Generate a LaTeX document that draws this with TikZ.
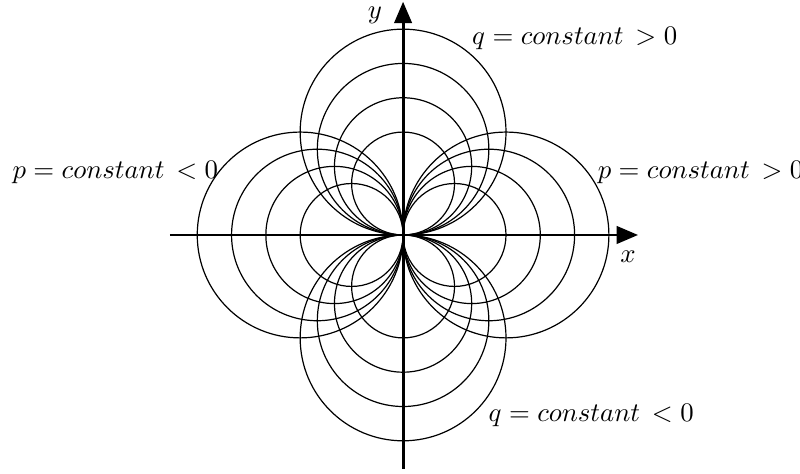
\documentclass[tikz,border=0pt]{standalone}
\usepackage{amsmath,amssymb}
\usepackage{tikz}
\usepackage{xcolor}
\usetikzlibrary{arrows.meta, positioning, calc}
\tikzset{
    % Curve styles
    circleline/.style={
        draw=black,
        line width=0.45pt
    },
    % Axis styles
    axisline/.style={
        draw=black,
        line width=1.1pt,
        -{Triangle[length=8pt,width=6.5pt]}
    },
    axislabel/.style={
        inner sep=0pt,
        font=\normalsize
    },
    curvelabel/.style={
        inner sep=0pt,
        font=\normalsize
    }
}
\begin{document}
\begin{tikzpicture}[x=0.45cm, y=0.45cm]
            \useasboundingbox (-11.75,-6.94) rectangle (11.57,6.85);

            % Circles p = constant (centres on the x axis)
            \foreach \r in {1.5,2,2.5,3} {
                \draw[circleline] (\r,0) circle (\r);
                \draw[circleline] (-\r,0) circle (\r);
            }

            % Circles q = constant (centres on the y axis)
            \foreach \r in {1.5,2,2.5,3} {
                \draw[circleline] (0,\r) circle (\r);
                \draw[circleline] (0,-\r) circle (\r);
            }

            % Axes
            \coordinate (xstart) at (-6.8,0);
            \coordinate (xend) at (6.85,0);
            \coordinate (ystart) at (0,-6.82);
            \coordinate (yend) at (0,6.8);
            \draw[axisline] (xstart) -- (xend);
            \draw[axisline] (ystart) -- (yend);

            \node[axislabel] (xlabel) at (6.56,-0.64) {$x$};
            \node[axislabel] (ylabel) at (-0.82,6.4) {$y$};

            % Labels
            \node[curvelabel, anchor=base west] (pplus) at (5.66,1.66) {$p = constant\, > 0$};
            \node[curvelabel, anchor=base west] (pminus) at (-11.4,1.66) {$p = constant\, < 0$};
            \node[curvelabel, anchor=base west] (qplus) at (2.0,5.54) {$q = constant\, > 0$};
            \node[curvelabel, anchor=base west] (qminus) at (2.48,-5.45) {$q = constant\, < 0$};
        \end{tikzpicture}
\end{document}
